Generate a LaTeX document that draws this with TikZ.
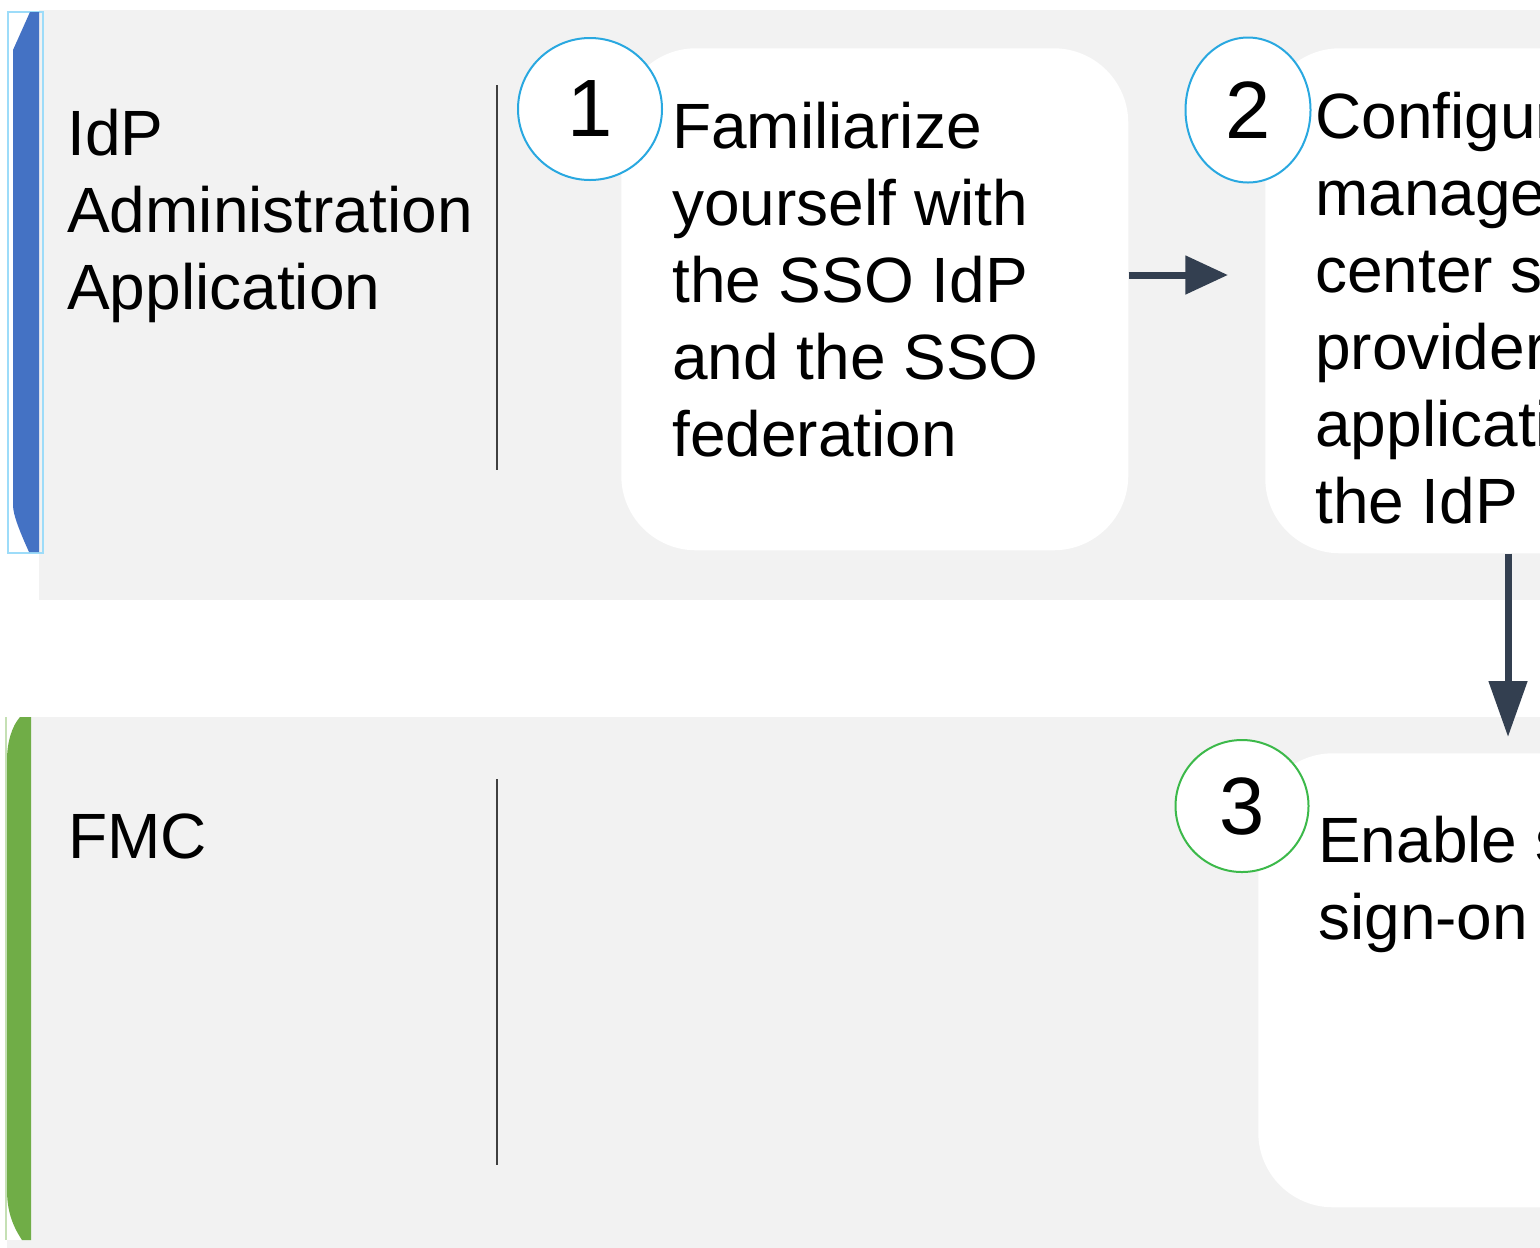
\documentclass[tikz,border=0pt]{standalone}
\usepackage{fontspec}
\setmainfont{Liberation Sans}
\usepackage{xcolor}
\usetikzlibrary{shapes.geometric,arrows.meta}
\definecolor{laneGray}{HTML}{F2F2F2}
\definecolor{idpBlue}{HTML}{4472C4}
\definecolor{fmcGreen}{HTML}{70AD47}
\definecolor{flowDark}{HTML}{333F50}
\definecolor{ringBlue}{HTML}{29A8E0}
\definecolor{ringGreen}{HTML}{3CB94A}

\begin{document}
\begin{tikzpicture}[x=0.75pt,y=0.75pt,yscale=-1,xscale=1,
  stepbox/.style={draw=none, fill=white, rounded corners=56pt, inner sep=0pt, anchor=north west},
  stepnum/.style={ellipse, fill=white, draw, line width=1.5pt, inner sep=0pt, font=\fontsize{61}{61}\selectfont},
  steptext/.style={anchor=base west, inner sep=0pt, align=left, font=\fontsize{48}{57.75}\selectfont},
  flow/.style={draw=flowDark, line width=5.25pt}]
\useasboundingbox (0,0) rectangle (1540,1247);
\clip (0,0) rectangle (1540,1247);

\fill[laneGray] (39,10) rectangle (1560,600);
\fill[laneGray] (31,717) rectangle (1560,1260);
\fill[laneGray] (7,1240) rectangle (31,1260);
\draw[color={rgb,255:red,157;green,220;blue,249}, line width=0.9pt] (8,12) rectangle (43,553);
\fill[idpBlue] (30,12) -- (39,12) -- (39,552) -- (29,552) .. controls (20,532) and (13,515) .. (13,505) -- (13,50) -- cycle;
\draw[color={rgb,255:red,197;green,224;blue,180}, line width=0.9pt] (6,717) -- (6,1240) ;
\fill[fmcGreen] (31,717) -- (31,1240) -- (22,1240) .. controls (12,1225) and (7,1210) .. (7,1190) -- (7,760) .. controls (7,742) and (12,726) .. (20,717) -- cycle;
\draw[color={rgb,255:red,64;green,64;blue,64}, line width=0.9pt] (497,85) -- (497,470) ;
\draw[color={rgb,255:red,64;green,64;blue,64}, line width=0.9pt] (497,779) -- (497,1165) ;

\node[steptext] (lane1) at (67,309) {IdP\\Administration\\Application};
\node[steptext] (lane2) at (68,858) {FMC};

\node[stepbox, minimum width=380.25pt, minimum height=376.5pt] (box1) at (621,48) {};
\node[stepbox, minimum width=476pt, minimum height=378.75pt] (box2) at (1265,48) {};
\node[stepbox, minimum width=481.5pt, minimum height=340.5pt] (box3) at (1258,753) {};

\node[stepnum, draw=ringBlue, minimum width=108pt, minimum height=106.5pt] (num1) at (590,109) {1};
\node[stepnum, draw=ringBlue, minimum width=93.75pt, minimum height=108.75pt] (num2) at (1248,110) {2};
\node[stepnum, draw=ringGreen, minimum width=99.75pt, minimum height=99pt] (num3) at (1242,806) {3};

\node[steptext] (txt1) at (672,456) {Familiarize\\yourself with\\the SSO IdP\\and the SSO\\federation};
\node[steptext] (txt2) at (1315,523) {Configure\\management\\center service\\provider\\application in\\the IdP};
\node[steptext] (txt3) at (1318,939) {Enable single\\sign-on};

\draw[flow, -{Triangle[length=32pt,width=28pt]}, shorten >=27.75pt] (box1.east |- 0,275) -- (box2.west |- 0,275) ;
\draw[flow, -{Triangle[length=42pt,width=28pt]}, shorten >=12pt] (box2.south -| 1508,0) -- (box3.north -| 1508,0) ;

\end{tikzpicture}
\end{document}
